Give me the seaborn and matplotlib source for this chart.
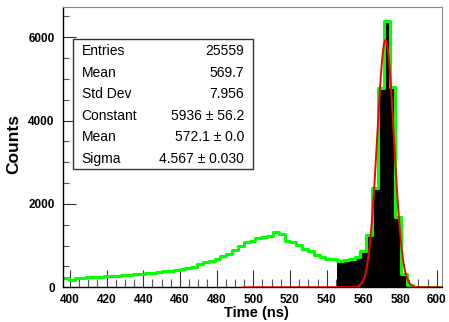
import numpy as np
import pandas as pd
import matplotlib
matplotlib.use("Agg")
import matplotlib.pyplot as plt
import seaborn as sns
from matplotlib.ticker import MultipleLocator
from matplotlib.patches import Rectangle

# ---------------- data ----------------
hist_range = [396.2, 602.9]
counts = [215, 180, 225, 235, 240, 245, 250, 260, 270, 275,
          290, 300, 310, 320, 335, 350, 370, 385, 400, 420,
          450, 465, 495, 560, 600, 640, 690, 740, 810, 890,
          990, 1090, 1110, 1180, 1200, 1220, 1320, 1270, 1110, 1090,
          1020, 920, 880, 780, 730, 690, 670, 640, 650, 670,
          735, 880, 1255, 2375, 4775, 6400, 4800, 1695, 320, 55,
          15, 10, 5, 5, 5]
fill_first_bin = 47
fill_last_bin = 59
fit_constant = 5936.0
fit_mean = 572.1
fit_sigma = 4.567
fit_range = [494.0, 602.9]
stats_names = ["Entries", "Mean", "Std Dev", "Constant", "Mean", "Sigma"]
stats_values = ["25559", "569.7", "7.956", "5936 \u00b1 56.2", "572.1 \u00b1 0.0", "4.567 \u00b1 0.030"]
x_ticks = list(range(400, 601, 20))
y_ticks = [0, 2000, 4000, 6000]

# ---------------- style ----------------
sns.set_theme(style="white")
plt.rcParams["font.family"] = ["Liberation Sans", "DejaVu Sans"]
plt.rcParams["text.color"] = "black"
plt.rcParams["axes.labelcolor"] = "black"
plt.rcParams["xtick.labelcolor"] = "black"
plt.rcParams["ytick.labelcolor"] = "black"

fig = plt.figure(figsize=(4.49, 3.22), dpi=100)
ax = fig.add_axes([63 / 449, 1 - 287.3 / 322, 379 / 449, 280.3 / 322])

n = len(counts)
edges = np.linspace(hist_range[0], hist_range[1], n + 1)
centers = 0.5 * (edges[:-1] + edges[1:])
df = pd.DataFrame({"time": centers, "counts": np.array(counts, dtype=float)})
df_fill = df.iloc[fill_first_bin:fill_last_bin + 1]

# black filled part
sns.histplot(data=df_fill, x="time", weights="counts",
             bins=list(edges[fill_first_bin:fill_last_bin + 2]),
             element="step", fill=True, color="black", alpha=1.0,
             linewidth=0, ax=ax)

# green outline histogram
sns.histplot(data=df, x="time", weights="counts", bins=list(edges), element="step",
             fill=False, color="#00ff00", linewidth=2.2, ax=ax)

# red gaussian fit
xf = np.linspace(fit_range[0], fit_range[1], 600)
yf = fit_constant * np.exp(-0.5 * ((xf - fit_mean) / fit_sigma) ** 2)
sns.lineplot(x=xf, y=yf, color="#ff0000", linewidth=1.4, ax=ax, zorder=5)

ax.set_xlim(hist_range[0], hist_range[1])
ax.set_ylim(0, 6727)

ax.set_xticks(x_ticks)
ax.set_xticklabels([str(t) for t in x_ticks], fontsize=8.5, fontweight="bold", color="black")
ax.set_yticks(y_ticks)
ax.set_yticklabels([str(t) for t in y_ticks], fontsize=8.5, fontweight="bold", color="black")
ax.xaxis.set_minor_locator(MultipleLocator(5))
ax.yaxis.set_minor_locator(MultipleLocator(500))
ax.tick_params(axis="x", which="major", direction="in", length=12, width=0.8,
               color="#333333", pad=5, bottom=True, top=False)
ax.tick_params(axis="x", which="minor", direction="in", length=5.5, width=0.8,
               color="#555555", bottom=True, top=False)
ax.tick_params(axis="y", which="major", direction="in", length=9, width=0.8,
               color="#333333", pad=6, left=True, right=False)
ax.tick_params(axis="y", which="minor", direction="in", length=4.5, width=0.8,
               color="#555555", left=True, right=False)

ax.set_xlabel("Time (ns)", fontsize=10.5, fontweight="bold", color="black")
ax.xaxis.label.set_va("center")
ax.xaxis.set_label_coords(0.51, -0.093)
ax.set_ylabel("Counts", fontsize=12.5, fontweight="bold", color="black")
ax.yaxis.label.set_va("center")
ax.yaxis.set_label_coords(-0.129, 0.511)

for s in ["left", "bottom"]:
    ax.spines[s].set_color("black")
    ax.spines[s].set_linewidth(1.0)
for s in ["top", "right"]:
    ax.spines[s].set_color("#888888")
    ax.spines[s].set_linewidth(0.8)

# stats box
bx0, bx1 = 0.0256, 0.502
by0, by1 = 0.421, 0.8848
ax.add_patch(Rectangle((bx0, by0), bx1 - bx0, by1 - by0, transform=ax.transAxes,
                       facecolor="white", edgecolor="#333333", linewidth=1.0, zorder=10))
row_y = [0.843, 0.766, 0.688, 0.612, 0.535, 0.458]
for name, val, yy in zip(stats_names, stats_values, row_y):
    ax.text(0.0493, yy, name, transform=ax.transAxes, ha="left", va="center",
            fontsize=10, color="black", zorder=11)
    ax.text(0.4776, yy, val, transform=ax.transAxes, ha="right", va="center",
            fontsize=10, color="black", zorder=11)

fig.savefig("out.png", dpi=100)
